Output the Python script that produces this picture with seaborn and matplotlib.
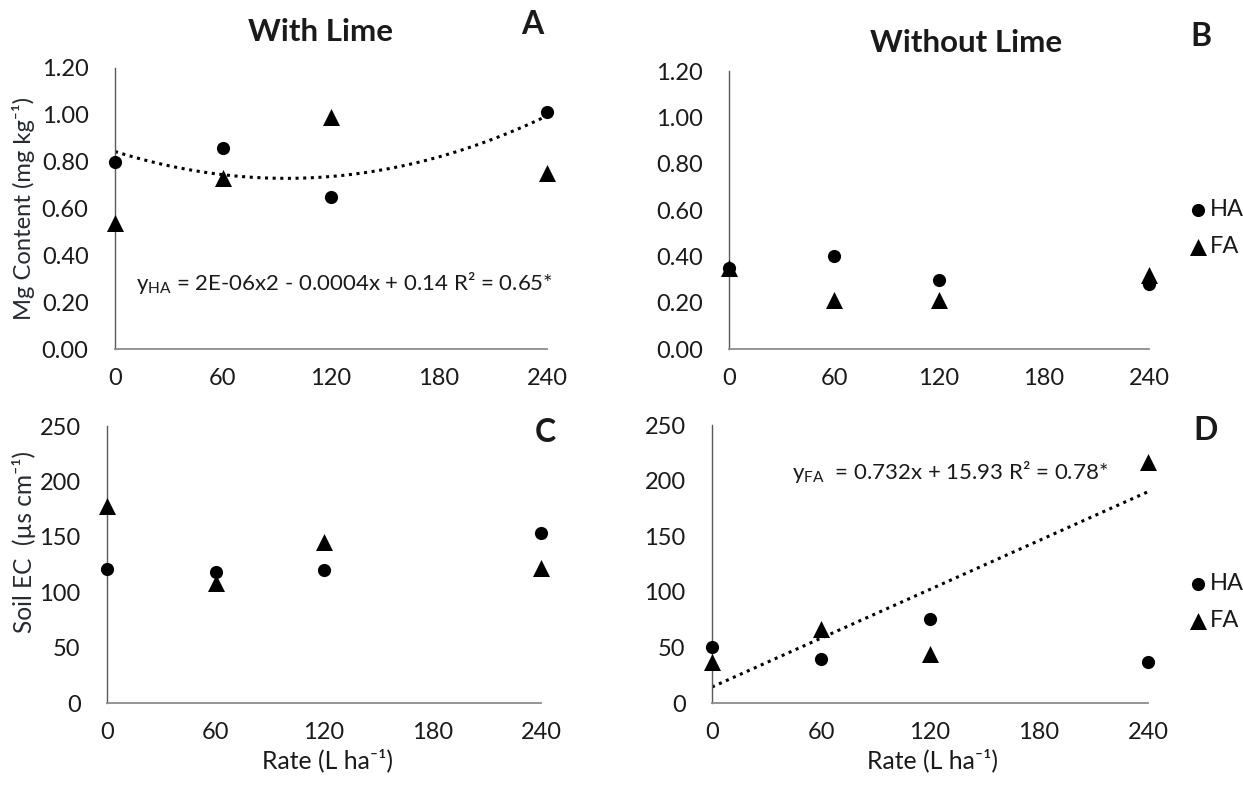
import numpy as np
import pandas as pd
import seaborn as sns
import matplotlib
matplotlib.use("Agg")
import matplotlib.pyplot as plt

## Data
rates = [0, 60, 120, 240]
rate_ticks = [0, 60, 120, 180, 240]

mg_lime_ha = [0.80, 0.86, 0.65, 1.01]
mg_lime_fa = [0.54, 0.73, 0.99, 0.75]
mg_nolime_ha = [0.35, 0.40, 0.30, 0.28]
mg_nolime_fa = [0.35, 0.21, 0.21, 0.32]

ec_lime_ha = [121, 118, 120, 153]
ec_lime_fa = [178, 108, 145, 122]
ec_nolime_ha = [50, 40, 76, 37]
ec_nolime_fa = [37, 67, 44, 217]

eq_a = "y$_{HA}$ = 2E-06x2 - 0.0004x + 0.14 R² = 0.65*"
eq_d = "y$_{FA}$  = 0.732x + 15.93 R² = 0.78*"

sns.set_theme(style="white")
plt.rcParams["font.family"] = ["Lato", "DejaVu Sans"]
plt.rcParams["mathtext.default"] = "regular"

TEXT = "#1a1a1a"
W, H = 1243, 787


def draw(ax, ha, fa):
    # one call per series so circles and triangles can differ in size
    df_ha = pd.DataFrame({"Rate": rates, "Value": ha})
    df_fa = pd.DataFrame({"Rate": rates, "Value": fa})
    sns.scatterplot(data=df_ha, x="Rate", y="Value", marker="o", s=90,
                    color="black", linewidth=0, clip_on=False, label="HA",
                    ax=ax, zorder=3)
    sns.scatterplot(data=df_fa, x="Rate", y="Value", marker="^", s=150,
                    color="black", linewidth=0, clip_on=False, label="FA",
                    ax=ax, zorder=3)


def style_axes(ax, ymax, ystep, fmt):
    ax.set_facecolor("none")
    ax.set_xlim(0, 240)
    ax.set_ylim(0, ymax)
    ax.set_xticks(rate_ticks)
    yt = np.arange(0, ymax + ystep / 2, ystep)
    ax.set_yticks(yt)
    ax.set_yticklabels([fmt.format(v) for v in yt])
    for s in ["top", "right"]:
        ax.spines[s].set_visible(False)
    ax.spines["left"].set_color("#5a5a5a")
    ax.spines["left"].set_linewidth(1.0)
    ax.spines["bottom"].set_color("#8c8c8c")
    ax.spines["bottom"].set_linewidth(1.3)
    ax.tick_params(axis="both", length=0, labelsize=17, colors=TEXT)
    ax.tick_params(axis="x", pad=14)
    ax.tick_params(axis="y", pad=19)
    ax.set_xlabel("")
    ax.set_ylabel("")


def legend_right(ax, ycenter):
    leg = ax.legend(loc="center left", bbox_to_anchor=(1186 / W, 1 - ycenter / H),
                    bbox_transform=fig.transFigure, frameon=False, fontsize=17,
                    handletextpad=0.0, labelspacing=0.7, handlelength=1.0,
                    borderpad=0, borderaxespad=0)
    for t in leg.get_texts():
        t.set_color(TEXT)


def fit_length(txt, target_px, vertical=False):
    # scale the font so the text spans about the same pixels as the reference
    r = fig.canvas.get_renderer()
    for _ in range(3):
        bb = txt.get_window_extent(r)
        cur = bb.height if vertical else bb.width
        txt.set_fontsize(txt.get_fontsize() * target_px / cur)


fig = plt.figure(figsize=(W / 100, H / 100), dpi=100)
axA = fig.add_axes([0.0925, 0.5565, 0.3475, 0.3571])
axB = fig.add_axes([0.5865, 0.5565, 0.3379, 0.3532])
axC = fig.add_axes([0.0861, 0.1067, 0.3492, 0.3520])
axD = fig.add_axes([0.5728, 0.1067, 0.3508, 0.3532])

# Panel A - Mg with lime, quadratic trend of HA
draw(axA, mg_lime_ha, mg_lime_fa)
coef_a = np.polyfit(rates, mg_lime_ha, 2)
xs = np.linspace(0, 240, 200)
sns.lineplot(x=xs, y=np.polyval(coef_a, xs), ax=axA, color="black",
             linestyle=(0, (1, 1.5)), linewidth=2.2, zorder=2)
style_axes(axA, 1.2, 0.2, "{:.2f}")
axA.get_legend().remove()
axA.set_ylabel("Mg Content (mg kg⁻¹)", fontsize=18, color="#262a33")
axA.yaxis.set_label_coords(-0.211, 0.50)
axA.yaxis.label.set_va("center")
axA.text(0.049, 0.235, eq_a, transform=axA.transAxes, fontsize=16, color=TEXT, va="center")

# Panel B - Mg without lime
draw(axB, mg_nolime_ha, mg_nolime_fa)
style_axes(axB, 1.2, 0.2, "{:.2f}")
legend_right(axB, 228)

# Panel C - EC with lime
draw(axC, ec_lime_ha, ec_lime_fa)
style_axes(axC, 250, 50, "{:.0f}")
axC.get_legend().remove()
axC.set_ylabel("Soil EC  (µs cm⁻¹)", fontsize=18, color="#262a33")
axC.yaxis.set_label_coords(-0.191, 0.58)
axC.yaxis.label.set_va("center")
axC.set_xlabel("Rate (L ha⁻¹)", fontsize=18, color=TEXT)
axC.xaxis.set_label_coords(0.508, -0.209)
axC.xaxis.label.set_va("center")

# Panel D - EC without lime, linear trend of FA
draw(axD, ec_nolime_ha, ec_nolime_fa)
coef_d = np.polyfit(rates, ec_nolime_fa, 1)
xl = np.array([0, 240])
sns.lineplot(x=xl, y=np.polyval(coef_d, xl), ax=axD, color="black",
             linestyle=(0, (1, 1.5)), linewidth=2.2, zorder=2)
style_axes(axD, 250, 50, "{:.0f}")
legend_right(axD, 602)
axD.set_xlabel("Rate (L ha⁻¹)", fontsize=18, color=TEXT)
axD.xaxis.set_label_coords(0.505, -0.208)
axD.xaxis.label.set_va("center")
axD.text(0.183, 0.831, eq_d, transform=axD.transAxes, fontsize=16, color=TEXT, va="center")

fit_length(axA.yaxis.label, 223, vertical=True)
fit_length(axC.yaxis.label, 183, vertical=True)
fit_length(axC.xaxis.label, 131)
fit_length(axD.xaxis.label, 131)

# titles and panel letters
fig.text(321 / W, 1 - 32 / H, "With Lime", ha="center", va="center",
         fontsize=22.5, fontweight="bold", color=TEXT)
fig.text(966 / W, 1 - 43 / H, "Without Lime", ha="center", va="center",
         fontsize=22.5, fontweight="bold", color=TEXT)
for x, y, s in [(532, 25, "A"), (1201, 37, "B"), (545, 433, "C"), (1206, 430, "D")]:
    fig.text(x / W, 1 - y / H, s, ha="center", va="center",
             fontsize=23, fontweight="bold", color=TEXT)

fig.savefig("out.png", dpi=100)
